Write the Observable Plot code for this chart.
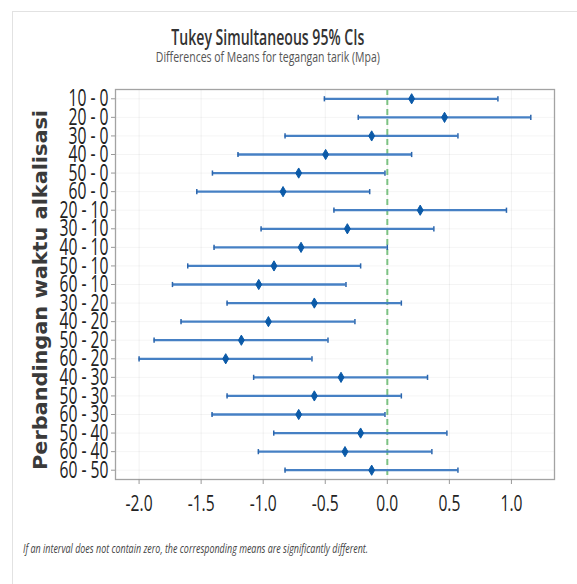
<!DOCTYPE html>
<html>
<head>
<meta charset="utf-8">
<script src="https://cdn.jsdelivr.net/npm/d3@7"></script>
<script src="https://cdn.jsdelivr.net/npm/@observablehq/plot@0.6"></script>
<style>
  html, body { margin: 0; padding: 0; background: #fff; }
  #page { position: relative; width: 577px; height: 584px; overflow: hidden; font-family: "Open Sans", sans-serif; }
  #panel { position: absolute; left: 12px; top: 11px; right: -5px; bottom: -5px; border-left: 1.5px solid #e2e2e2; border-top: 1.5px solid #e2e2e2; }
  .line { position: absolute; left: 0; width: 535px; text-align: center; line-height: 1; white-space: nowrap; }
  .line span { display: inline-block; transform-origin: 50% 50%; }
  #title { top: 25px; font-size: 22px; font-weight: 600; color: #333; }
  #subtitle { top: 49.5px; font-size: 14.5px; color: #555; }
  #foot { position: absolute; left: 23px; top: 542px; font-size: 13.5px; font-style: italic; color: #444; line-height: 1; white-space: nowrap; }
  #foot span { display: inline-block; transform-origin: 0 50%; }
  #chart { position: absolute; left: 0; top: 72px; }
  #chart svg { display: block; }
</style>
</head>
<body>
<div id="page">
  <div id="panel"></div>
  <div id="title" class="line"><span>Tukey Simultaneous 95% CIs</span></div>
  <div id="subtitle" class="line"><span>Differences of Means for tegangan tarik (Mpa)</span></div>
  <div id="chart"></div>
  <div id="foot"><span>If an interval does not contain zero, the corresponding means are significantly different.</span></div>
</div>
<script>
const labels = ["10 - 0","20 - 0","30 - 0","40 - 0","50 - 0","60 - 0",
  "20 - 10","30 - 10","40 - 10","50 - 10","60 - 10",
  "30 - 20","40 - 20","50 - 20","60 - 20",
  "40 - 30","50 - 30","60 - 30",
  "50 - 40","60 - 40",
  "60 - 50"];
const means = [0.196, 0.461, -0.126, -0.497, -0.714, -0.840,
  0.265, -0.322, -0.695, -0.913, -1.036,
  -0.588, -0.958, -1.176, -1.302,
  -0.373, -0.588, -0.714,
  -0.215, -0.341,
  -0.126];
const lower = [-0.507, -0.234, -0.824, -1.203, -1.409, -1.535,
  -0.430, -1.017, -1.396, -1.608, -1.731,
  -1.291, -1.662, -1.879, -2.000,
  -1.077, -1.291, -1.412,
  -0.915, -1.039,
  -0.824];
const upper = [0.891, 1.156, 0.569, 0.196, -0.019, -0.142,
  0.960, 0.375, 0.000, -0.215, -0.333,
  0.113, -0.261, -0.478, -0.607,
  0.324, 0.113, -0.019,
  0.480, 0.359,
  0.569];
const xTicks = [-2.0, -1.5, -1.0, -0.5, 0.0, 0.5, 1.0];
const yTitle = "Perbandingan waktu alkalisasi";

const data = labels.map((label, i) => ({label, mean: means[i], lo: lower[i], hi: upper[i]}));

const vbar = {draw(ctx, size) { const h = Math.sqrt(size / Math.PI); ctx.moveTo(0, -h); ctx.lineTo(0, h); }};

const svg = Plot.plot({
  width: 577,
  height: 447,
  marginLeft: 115,
  marginRight: 23,
  marginTop: 17,
  marginBottom: 40,
  style: {fontFamily: "'Open Sans', sans-serif", color: "#222", background: "transparent"},
  x: {domain: [-2.19, 1.347]},
  y: {type: "point", domain: labels, padding: 0.5, round: false},
  marks: [
    Plot.gridX(xTicks, {stroke: "#000", strokeOpacity: 0.055}),
    Plot.gridY(labels, {stroke: "#000", strokeOpacity: 0.045}),
    Plot.ruleX([0], {stroke: "#7cc283", strokeWidth: 2, strokeDasharray: "6,4"}),
    Plot.ruleY(data, {y: "label", x1: "lo", x2: "hi", stroke: "#4680c4", strokeWidth: 2.3}),
    Plot.dot(data, {x: "lo", y: "label", symbol: vbar, r: 2.6, stroke: "#2a65ad", strokeWidth: 1.5, fill: "none"}),
    Plot.dot(data, {x: "hi", y: "label", symbol: vbar, r: 2.6, stroke: "#2a65ad", strokeWidth: 1.5, fill: "none"}),
    Plot.dot(data, {x: "mean", y: "label", symbol: "diamond", r: 3.1, fill: "#0b5aa8", stroke: "#0b5aa8", strokeWidth: 1}),
    Plot.frame({stroke: "#a3a3a3", strokeWidth: 1.3}),
    Plot.axisX({ticks: xTicks, tickFormat: d => d.toFixed(1), tickSize: 5, tickPadding: 11, fontSize: 22, stroke: "#999", label: null}),
    Plot.axisY({ticks: labels, tickSize: 4, tickPadding: 3, fontSize: 24, stroke: "#999", label: null})
  ]
});
document.getElementById("chart").appendChild(svg);

// horizontal squeeze of tick labels to match the reference's condensed lettering
function squeeze(sel, factor) {
  svg.querySelectorAll(sel).forEach(t => {
    const tr = t.getAttribute("transform");
    if (tr) t.setAttribute("transform", tr + ` scale(${factor},1)`);
    else {
      const x = +(t.getAttribute("x") || 0);
      t.setAttribute("transform", `translate(${x},0) scale(${factor},1) translate(${-x},0)`);
    }
  });
}
function firstWidth(sel) { const t = svg.querySelector(sel); return t ? t.getBBox().width : 1; }
const ySel = 'g[aria-label="y-axis tick label"] text';
const xSel = 'g[aria-label="x-axis tick label"] text';
squeeze(ySel, 40 / firstWidth(ySel));
squeeze(xSel, 27 / firstWidth(xSel));

// y-axis title
d3.select(svg).append("text")
  .attr("transform", "translate(47,218) rotate(-90)")
  .attr("text-anchor", "middle")
  .attr("font-family", "'DejaVu Sans', sans-serif")
  .attr("font-weight", "bold")
  .attr("font-size", 20)
  .attr("fill", "#3a3a3a")
  .attr("textLength", 360)
  .attr("lengthAdjust", "spacingAndGlyphs")
  .text(yTitle);

// fit HTML text lines to reference widths
function fit(id, target) {
  const s = document.querySelector(`#${id} span`);
  const w = s.getBoundingClientRect().width;
  s.style.transform = `scaleX(${target / w})`;
}
fit("title", 193);
fit("subtitle", 224);
fit("foot", 345);
</script>
</body>
</html>
